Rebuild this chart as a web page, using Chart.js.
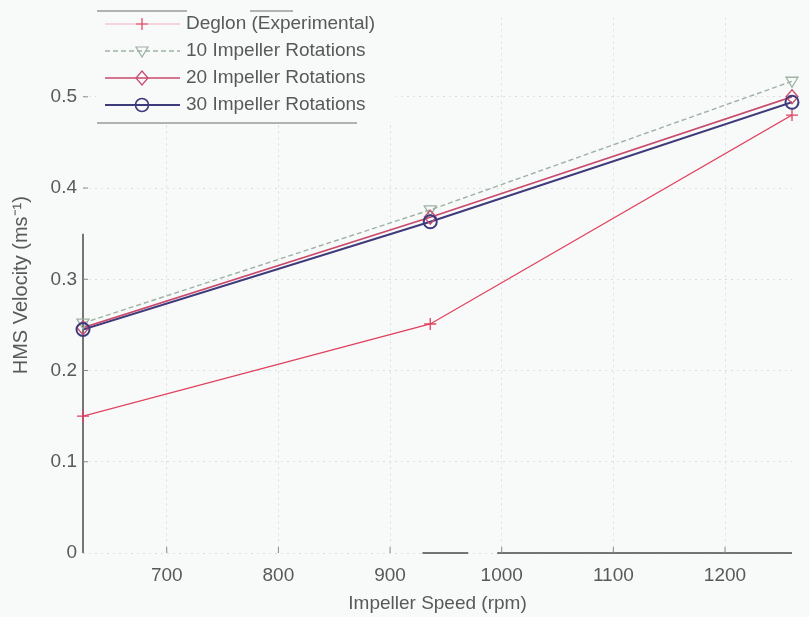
<!DOCTYPE html>
<html>
<head>
<meta charset="utf-8">
<script src="https://cdn.jsdelivr.net/npm/chart.js@4/dist/chart.umd.min.js"></script>
<style>
  html, body { margin: 0; padding: 0; background: #f8f9f9; }
  #wrap { width: 809px; height: 617px; position: relative; }
</style>
</head>
<body>
<div id="wrap"><canvas id="c" width="809" height="617"></canvas></div>
<script>
// Impeller speed (rpm) and HMS velocity (m/s) for each series
const impellerSpeed = [625, 936, 1260];
const deglonExp = [0.150, 0.251, 0.480];
const rot10 = [0.252, 0.376, 0.517];
const rot20 = [0.247, 0.368, 0.500];
const rot30 = [0.245, 0.363, 0.494];
const seriesLabels = ['Deglon (Experimental)', '10 Impeller Rotations', '20 Impeller Rotations', '30 Impeller Rotations'];
const xTicks = [700, 800, 900, 1000, 1100, 1200];
const yTicks = [0, 0.1, 0.2, 0.3, 0.4, 0.5];

const FONT = 'Liberation Sans, Arial, sans-serif';
const TXT = '#585a5a';
const AXIS = '#4a4a4a';

const styles = [
  { color: '#e0415e', shape: 'cross', dash: [], width: 1.3 },
  { color: '#9db2a3', shape: 'triDown', dash: [5, 3], width: 1.4 },
  { color: '#c84a6c', shape: 'diamond', dash: [], width: 1.6 },
  { color: '#3d3b7c', shape: 'circle', dash: [], width: 2 }
];
const seriesValues = [deglonExp, rot10, rot20, rot30];

function pts(vals) { return impellerSpeed.map((x, i) => ({ x: x, y: vals[i] })); }

function drawMarker(ctx, shape, x, y, color, lw) {
  ctx.save();
  ctx.strokeStyle = color;
  ctx.lineWidth = lw;
  ctx.setLineDash([]);
  ctx.beginPath();
  if (shape === 'cross') {
    ctx.moveTo(x - 6, y); ctx.lineTo(x + 6, y);
    ctx.moveTo(x, y - 6); ctx.lineTo(x, y + 6);
  } else if (shape === 'triDown') {
    ctx.moveTo(x - 6, y - 4); ctx.lineTo(x + 6, y - 4); ctx.lineTo(x, y + 6); ctx.closePath();
  } else if (shape === 'diamond') {
    ctx.moveTo(x, y - 7); ctx.lineTo(x + 6, y); ctx.lineTo(x, y + 7); ctx.lineTo(x - 6, y); ctx.closePath();
  } else {
    ctx.arc(x, y, 6.5, 0, Math.PI * 2);
  }
  ctx.stroke();
  ctx.restore();
}

const datasets = seriesValues.map((vals, i) => ({
  label: seriesLabels[i],
  data: pts(vals),
  borderColor: styles[i].color,
  borderWidth: styles[i].width,
  borderDash: styles[i].dash,
  pointRadius: 0,
  fill: false,
  tension: 0
}));

// Axis frame (faded in print), inward tick marks, markers and legend
const framePlugin = {
  id: 'frame',
  beforeDatasetsDraw(chart) {
    const { ctx, scales: { x, y } } = chart;
    ctx.save();
    ctx.strokeStyle = AXIS;
    ctx.lineWidth = 1.5;
    ctx.beginPath();
    ctx.moveTo(x.left, y.getPixelForValue(0.35));
    ctx.lineTo(x.left, y.getPixelForValue(0));
    const yb = y.getPixelForValue(0);
    ctx.moveTo(x.getPixelForValue(929), yb); ctx.lineTo(x.getPixelForValue(970), yb);
    ctx.moveTo(x.getPixelForValue(996), yb); ctx.lineTo(x.right, yb);
    ctx.stroke();
    ctx.lineWidth = 1;
    ctx.strokeStyle = '#8a8a8a';
    ctx.beginPath();
    yTicks.forEach(v => {
      if (v === 0) return;
      const py = y.getPixelForValue(v);
      ctx.moveTo(x.left, py); ctx.lineTo(x.left + 5, py);
    });
    xTicks.forEach(v => {
      const px = x.getPixelForValue(v);
      ctx.moveTo(px, yb); ctx.lineTo(px, yb - 6);
    });
    ctx.stroke();
    ctx.restore();
  },
  afterDatasetsDraw(chart) {
    const { ctx, scales: { x, y } } = chart;
    seriesValues.forEach((vals, i) => {
      vals.forEach((v, j) => {
        drawMarker(ctx, styles[i].shape, x.getPixelForValue(impellerSpeed[j]), y.getPixelForValue(v),
          styles[i].color, styles[i].shape === 'circle' ? 2 : 1.3);
      });
    });
    // legend
    ctx.save();
    ctx.fillStyle = '#f8f9f9';
    ctx.fillRect(96, 11, 300, 112);
    ctx.strokeStyle = '#6a6a6a';
    ctx.lineWidth = 1;
    ctx.beginPath();
    ctx.moveTo(97, 11); ctx.lineTo(187, 11);
    ctx.moveTo(250, 11); ctx.lineTo(293, 11);
    ctx.moveTo(97, 123); ctx.lineTo(357, 123);
    ctx.stroke();
    const rows = [24, 51, 78, 105];
    ctx.font = '19px ' + FONT;
    ctx.textBaseline = 'middle';
    ctx.textAlign = 'left';
    seriesLabels.forEach((lab, i) => {
      const ry = rows[i];
      ctx.save();
      ctx.strokeStyle = styles[i].color;
      ctx.lineWidth = styles[i].width;
      ctx.setLineDash(styles[i].dash);
      if (i === 0) ctx.globalAlpha = 0.25;
      ctx.beginPath();
      ctx.moveTo(105, ry); ctx.lineTo(180, ry);
      ctx.stroke();
      ctx.restore();
      drawMarker(ctx, styles[i].shape, 142, ry, styles[i].color, styles[i].shape === 'circle' ? 1.6 : 1.2);
      ctx.fillStyle = TXT;
      ctx.fillText(lab, 186, ry);
    });
    ctx.restore();
  }
};

new Chart(document.getElementById('c'), {
  type: 'line',
  data: { datasets },
  plugins: [framePlugin],
  options: {
    responsive: false,
    animation: false,
    layout: { padding: { left: 0, right: 17, top: 10, bottom: 0 } },
    plugins: { legend: { display: false }, tooltip: { enabled: false } },
    scales: {
      x: {
        type: 'linear',
        min: 625, max: 1260,
        afterBuildTicks: s => { s.ticks = xTicks.map(v => ({ value: v })); },
        afterFit: s => { s.height = 64; },
        grid: { color: '#dcdede', drawTicks: false, lineWidth: 1 },
        border: { display: false, dash: [2, 4] },
        ticks: { padding: 11, color: TXT, font: { family: FONT, size: 19 }, maxRotation: 0, callback: v => String(v) },
        title: { display: true, text: 'Impeller Speed (rpm)', color: TXT, font: { family: FONT, size: 19 }, padding: { top: 0, bottom: 2 } }
      },
      y: {
        type: 'linear',
        min: 0, max: 0.587,
        afterBuildTicks: s => { s.ticks = yTicks.map(v => ({ value: v })); },
        afterFit: s => { s.width = 83; },
        grid: { color: '#dcdede', drawTicks: false, lineWidth: 1 },
        border: { display: false, dash: [2, 4] },
        ticks: { padding: 6, color: TXT, font: { family: FONT, size: 19 }, callback: v => v === 0 ? '0' : v.toFixed(1) },
        title: { display: true, text: 'HMS Velocity (ms⁻¹)', color: TXT, font: { family: FONT, size: 20 }, padding: { top: 9, bottom: 0 } }
      }
    }
  }
});
</script>
</body>
</html>
